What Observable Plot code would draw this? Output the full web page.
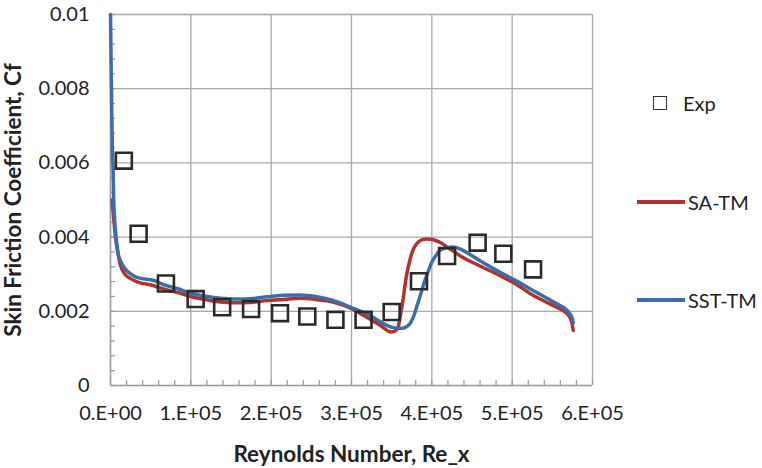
<!DOCTYPE html>
<html>
<head>
<meta charset="utf-8">
<script src="https://cdn.jsdelivr.net/npm/d3@7"></script>
<script src="https://cdn.jsdelivr.net/npm/@observablehq/plot@0.6"></script>
<style>
  html, body { margin: 0; padding: 0; background: #fff; }
  #wrap { position: relative; width: 762px; height: 468px; font-family: Lato, "Open Sans", sans-serif; }
  #wrap svg g[aria-label="y-axis label"] text,
  #wrap svg g[aria-label="x-axis label"] text { font-weight: bold; font-size: 22.5px; }
  .leg { position: absolute; font-size: 20px; color: #222; line-height: 1; white-space: nowrap; }
</style>
</head>
<body>
<div id="wrap"></div>
<script>
// ---- data ----
const expRe = [16600, 35000, 69000, 106000, 139000, 175000, 211000, 245000, 280000, 315000, 350000, 384000, 419000, 457000, 489000, 526000];
const expCf = [0.00606, 0.00409, 0.00275, 0.00233, 0.00211, 0.00206, 0.00195, 0.00186, 0.00177, 0.00177, 0.00198, 0.00281, 0.00349, 0.00385, 0.00355, 0.00313];

const saRe = [2000, 4000, 6200, 9000, 12500, 18000, 25000, 35000, 54000, 66000, 85000, 100000, 120000, 137000, 155000, 174000, 195000, 215000, 236000, 255000, 277000, 300000, 319000, 335000, 350000, 355000, 358000, 361000, 364000, 368000, 373000, 378000, 383000, 390000, 395000, 402000, 410000, 420000, 435000, 460000, 485000, 505000, 526000, 545000, 559000, 566000, 571000, 574000, 576000];
const saCf = [0.0050, 0.0045, 0.0040, 0.0036, 0.00323, 0.00300, 0.00288, 0.00278, 0.00269, 0.00260, 0.00250, 0.00240, 0.00231, 0.00225, 0.00223, 0.00224, 0.00229, 0.00232, 0.00235, 0.00232, 0.00225, 0.00207, 0.00184, 0.00163, 0.00144, 0.00148, 0.00157, 0.00190, 0.00229, 0.00290, 0.00341, 0.00372, 0.00386, 0.00394, 0.00395, 0.00393, 0.00386, 0.00372, 0.00350, 0.00322, 0.00296, 0.00273, 0.00243, 0.00222, 0.00207, 0.00198, 0.00187, 0.00172, 0.00148];

const sstRe = [0, 1500, 2500, 3300, 4000, 5000, 6200, 8000, 10000, 12500, 18000, 25000, 35000, 54000, 66000, 85000, 100000, 120000, 137000, 155000, 174000, 195000, 215000, 236000, 255000, 277000, 300000, 319000, 335000, 344000, 352000, 360000, 367000, 373000, 378000, 381000, 386000, 390000, 395000, 400000, 405000, 410000, 418000, 427000, 435000, 443000, 460000, 485000, 505000, 526000, 545000, 559000, 566000, 571000, 575000, 576000];
const sstCf = [0.0100, 0.0075, 0.0062, 0.0058, 0.0050, 0.00453, 0.00417, 0.0038, 0.0035, 0.00336, 0.00315, 0.00301, 0.00290, 0.00283, 0.00272, 0.00260, 0.00249, 0.00240, 0.00235, 0.00233, 0.00234, 0.00239, 0.00243, 0.00244, 0.00240, 0.00229, 0.00210, 0.00193, 0.00173, 0.00162, 0.00156, 0.00154, 0.00157, 0.00167, 0.00190, 0.00211, 0.00245, 0.00274, 0.00305, 0.00332, 0.00350, 0.00364, 0.00371, 0.00373, 0.00368, 0.00359, 0.00336, 0.00305, 0.00282, 0.00256, 0.00233, 0.00216, 0.00207, 0.00196, 0.00180, 0.00168];

const xTicks = [0, 100000, 200000, 300000, 400000, 500000, 600000];
const xTickLabels = ["0.E+00", "1.E+05", "2.E+05", "3.E+05", "4.E+05", "5.E+05", "6.E+05"];
const yTicks = [0, 0.002, 0.004, 0.006, 0.008, 0.01];
const yTickLabels = ["0", "0.002", "0.004", "0.006", "0.008", "0.01"];
const xMinor = d3.range(0, 600001, 20000);
const yMinor = d3.range(0, 0.01001, 0.0004);

const seriesNames = ["Exp", "SA-TM", "SST-TM"];
const colors = {"SA-TM": "#b0332f", "SST-TM": "#3d6cad"};

const expData = expRe.map((x, i) => ({x, y: expCf[i]}));
const saData = saRe.map((x, i) => ({x, y: saCf[i]}));
const sstData = sstRe.map((x, i) => ({x, y: sstCf[i]}));

const W = 762, H = 468, mL = 110, mR = 170, mT = 14, mB = 83;
const plotW = W - mL - mR, plotH = H - mT - mB, minorLen = 5;

const chart = Plot.plot({
  width: W,
  height: H,
  marginLeft: mL,
  marginRight: mR,
  marginTop: mT,
  marginBottom: mB,
  style: {fontFamily: "Lato, 'Open Sans', sans-serif", fontSize: "20px", color: "#222", background: "#fff", overflow: "visible"},
  x: {domain: [0, 600000]},
  y: {domain: [0, 0.01]},
  marks: [
    Plot.gridX(xTicks.slice(1), {stroke: "#a8a8a8", strokeOpacity: 1, strokeWidth: 1.3}),
    Plot.gridY(yTicks.slice(1), {stroke: "#a8a8a8", strokeOpacity: 1, strokeWidth: 1.3}),
    Plot.tickX(xMinor, {x: d => d, insetTop: plotH - minorLen, stroke: "#999", strokeWidth: 1.2}),
    Plot.tickY(yMinor, {y: d => d, insetRight: plotW - minorLen, stroke: "#999", strokeWidth: 1.2}),
    Plot.ruleX([0], {stroke: "#999", strokeWidth: 1.6}),
    Plot.ruleY([0], {stroke: "#999", strokeWidth: 1.6}),
    Plot.axisX(xTicks, {tickSize: 0, tickPadding: 20, tickFormat: (d, i) => xTickLabels[i], fill: "#222",
      label: "Reynolds Number, Re_x", labelAnchor: "center", labelOffset: 76, labelArrow: "none"}),
    Plot.axisY(yTicks, {tickSize: 0, tickPadding: 21, tickFormat: (d, i) => yTickLabels[i], fill: "#222",
      label: "Skin Friction Coefficient, Cf", labelAnchor: "center", labelOffset: 105, labelArrow: "none"}),
    Plot.line(saData, {x: "x", y: "y", stroke: colors["SA-TM"], strokeWidth: 3.5, curve: "monotone-x"}),
    Plot.line(sstData, {x: "x", y: "y", stroke: colors["SST-TM"], strokeWidth: 3.5, curve: "monotone-x"}),
    Plot.dot(expData, {x: "x", y: "y", symbol: "square", r: 9, stroke: "#2a2a2a", strokeWidth: 2.6, fill: "none"})
  ]
});

const wrap = document.getElementById("wrap");
wrap.appendChild(chart);

// legend
function addLeg(html, left, top) {
  const d = document.createElement("div");
  d.className = "leg";
  d.style.left = left + "px";
  d.style.top = top + "px";
  d.innerHTML = html;
  wrap.appendChild(d);
}
addLeg(`<span style="display:inline-block;width:12px;height:12px;border:1.6px solid #333;vertical-align:middle;margin-right:16px"></span><span style="vertical-align:middle">${seriesNames[0]}</span>`, 653, 90);
addLeg(`<span style="display:inline-block;width:48px;height:3.5px;background:${colors["SA-TM"]};vertical-align:middle;margin-right:3px"></span><span style="vertical-align:middle">${seriesNames[1]}</span>`, 637, 189);
addLeg(`<span style="display:inline-block;width:48px;height:3.5px;background:${colors["SST-TM"]};vertical-align:middle;margin-right:3px"></span><span style="vertical-align:middle">${seriesNames[2]}</span>`, 637, 287);
</script>
</body>
</html>
